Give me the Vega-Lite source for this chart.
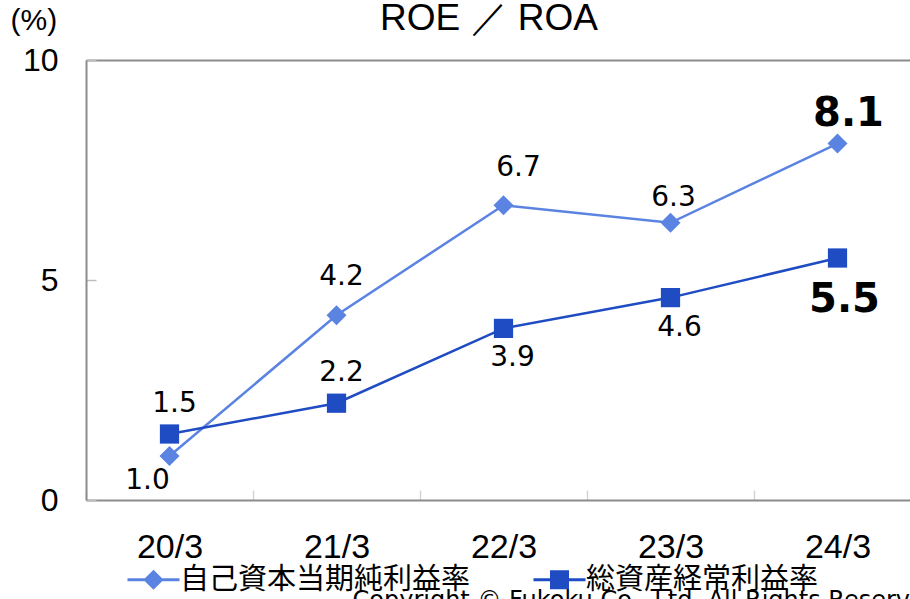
{
  "$schema": "https://vega.github.io/schema/vega-lite/v6.json",
  "autosize": {"type": "none"},
  "width": 824,
  "height": 440,
  "padding": {"left": 86, "top": 60, "right": 0, "bottom": 99},
  "background": "white",
  "config": {"view": {"stroke": null}},
  "title": {"text": "ROE ／ ROA", "font": "Liberation Sans", "fontSize": 37, "fontWeight": "normal", "color": "#000", "anchor": "middle", "frame": "group", "dx": -9, "offset": 0, "baseline": "alphabetic", "dy": 62},
  "data": {"values": [
    {"period": "20/3", "series": "自己資本当期純利益率", "value": 1.0},
    {"period": "21/3", "series": "自己資本当期純利益率", "value": 4.2},
    {"period": "22/3", "series": "自己資本当期純利益率", "value": 6.7},
    {"period": "23/3", "series": "自己資本当期純利益率", "value": 6.3},
    {"period": "24/3", "series": "自己資本当期純利益率", "value": 8.1},
    {"period": "20/3", "series": "総資産経常利益率", "value": 1.5},
    {"period": "21/3", "series": "総資産経常利益率", "value": 2.2},
    {"period": "22/3", "series": "総資産経常利益率", "value": 3.9},
    {"period": "23/3", "series": "総資産経常利益率", "value": 4.6},
    {"period": "24/3", "series": "総資産経常利益率", "value": 5.5}
  ]},
  "encoding": {
    "x": {"field": "period", "type": "nominal", "sort": null,
      "scale": {"type": "band", "range": [0, 835], "paddingInner": 0, "paddingOuter": 0},
      "axis": {"labelAngle": 0, "labelFont": "Liberation Sans", "labelFontSize": 34, "labelColor": "#000", "labelPadding": 40,
        "domainColor": "#8c8c8c", "domainWidth": 2, "tickColor": "#d4d4d4", "tickSize": -10, "tickBand": "extent", "tickWidth": 1.5,
        "title": "Copyright © Fukoku Co., Ltd.  All Rights Reserved.", "titleFont": "DejaVu Sans", "titleFontSize": 24, "titleFontWeight": "normal", "titleColor": "#000",
        "titleX": 266, "titleY": 88, "titleAlign": "left", "titleAnchor": "start", "titleBaseline": "top"}},
    "y": {"field": "value", "type": "quantitative",
      "scale": {"domain": [0, 10], "nice": false, "zero": true},
      "axis": {"values": [0, 5, 10], "labelFont": "Liberation Sans", "labelFontSize": 32, "labelColor": "#000", "labelPadding": 38,
        "domainColor": "#8c8c8c", "domainWidth": 2, "tickColor": "#bdbdbd", "tickSize": -10, "tickWidth": 1.5,
        "grid": true, "gridColor": "#8c8c8c", "gridWidth": 2,
        "gridOpacity": {"condition": {"test": "datum.value === 10", "value": 1}, "value": 0},
        "title": "(%)", "titleAngle": 0, "titleX": -76, "titleY": -40, "titleAlign": "left", "titleBaseline": "middle",
        "titleFont": "Liberation Sans", "titleFontSize": 30, "titleFontWeight": "normal", "titleColor": "#000"}}
  },
  "layer": [
    {
      "mark": {"type": "line", "strokeWidth": 2.5},
      "encoding": {
        "color": {"field": "series", "type": "nominal",
          "scale": {"domain": ["自己資本当期純利益率", "総資産経常利益率"], "range": ["#5B83E2", "#1F4BC3"]},
          "legend": {"orient": "none", "legendX": 53, "legendY": 505, "direction": "horizontal", "title": null, "padding": 0,
            "labelFont": "Noto Sans CJK JP", "labelFontSize": 29, "labelColor": "#000", "labelOffset": 12, "labelLimit": 500, "columnPadding": 62,
            "symbolSize": 400, "symbolStrokeWidth": 0,
            "encode": {"symbols": {"update": {
              "shape": {"signal": "datum.value === '自己資本当期純利益率' ? 'M-2.6,-0.14H-0.86L0,-1L0.86,-0.14H2.6V0.14H0.86L0,1L-0.86,0.14H-2.6Z' : 'M-2.6,-0.14H-0.95V-0.95H0.95V-0.14H2.6V0.14H0.95V0.95H-0.95V0.14H-2.6Z'"},
              "fill": {"scale": "color", "field": "value"},
              "stroke": {"value": "transparent"},
              "opacity": {"value": 1}
            }}}}
        }
      }
    },
    {
      "transform": [{"filter": "datum.series === '自己資本当期純利益率'"}],
      "mark": {"type": "point", "shape": "diamond", "filled": true, "opacity": 1, "size": 400},
      "encoding": {"color": {"field": "series", "type": "nominal", "legend": null}}
    },
    {
      "transform": [{"filter": "datum.series === '総資産経常利益率'"}],
      "mark": {"type": "point", "shape": "square", "filled": true, "opacity": 1, "size": 370},
      "encoding": {"color": {"field": "series", "type": "nominal", "legend": null}}
    },
    {
      "transform": [{"filter": "datum.series === '自己資本当期純利益率' && datum.period === '21/3'"}],
      "mark": {"type": "text", "font": "DejaVu Sans", "fontSize": 28, "color": "#000", "baseline": "middle", "dy": -38, "dx": 5},
      "encoding": {"text": {"field": "value", "type": "quantitative", "format": ".1f"}}
    },
    {
      "transform": [{"filter": "datum.series === '自己資本当期純利益率' && datum.period === '22/3'"}],
      "mark": {"type": "text", "font": "DejaVu Sans", "fontSize": 28, "color": "#000", "baseline": "middle", "dy": -37, "dx": 15},
      "encoding": {"text": {"field": "value", "type": "quantitative", "format": ".1f"}}
    },
    {
      "transform": [{"filter": "datum.series === '自己資本当期純利益率' && datum.period === '23/3'"}],
      "mark": {"type": "text", "font": "DejaVu Sans", "fontSize": 28, "color": "#000", "baseline": "middle", "dy": -25, "dx": 3},
      "encoding": {"text": {"field": "value", "type": "quantitative", "format": ".1f"}}
    },
    {
      "transform": [{"filter": "datum.series === '自己資本当期純利益率' && datum.period === '20/3'"}],
      "mark": {"type": "text", "font": "DejaVu Sans", "fontSize": 28, "color": "#000", "baseline": "middle", "dy": 25, "dx": -22},
      "encoding": {"text": {"field": "value", "type": "quantitative", "format": ".1f"}}
    },
    {
      "transform": [{"filter": "datum.series === '自己資本当期純利益率' && datum.period === '24/3'"}],
      "mark": {"type": "text", "font": "DejaVu Sans", "fontSize": 40, "fontWeight": "bold", "color": "#000", "baseline": "middle", "dy": -30, "dx": 11},
      "encoding": {"text": {"field": "value", "type": "quantitative", "format": ".1f"}}
    },
    {
      "transform": [{"filter": "datum.series === '総資産経常利益率' && (datum.period === '20/3' || datum.period === '21/3')"}],
      "mark": {"type": "text", "font": "DejaVu Sans", "fontSize": 28, "color": "#000", "baseline": "middle", "dy": -30, "dx": 5},
      "encoding": {"text": {"field": "value", "type": "quantitative", "format": ".1f"}}
    },
    {
      "transform": [{"filter": "datum.series === '総資産経常利益率' && (datum.period === '22/3' || datum.period === '23/3')"}],
      "mark": {"type": "text", "font": "DejaVu Sans", "fontSize": 28, "color": "#000", "baseline": "middle", "dy": 30, "dx": 9},
      "encoding": {"text": {"field": "value", "type": "quantitative", "format": ".1f"}}
    },
    {
      "transform": [{"filter": "datum.series === '総資産経常利益率' && datum.period === '24/3'"}],
      "mark": {"type": "text", "font": "DejaVu Sans", "fontSize": 40, "fontWeight": "bold", "color": "#000", "baseline": "middle", "dy": 42, "dx": 7},
      "encoding": {"text": {"field": "value", "type": "quantitative", "format": ".1f"}}
    }
  ]
}
